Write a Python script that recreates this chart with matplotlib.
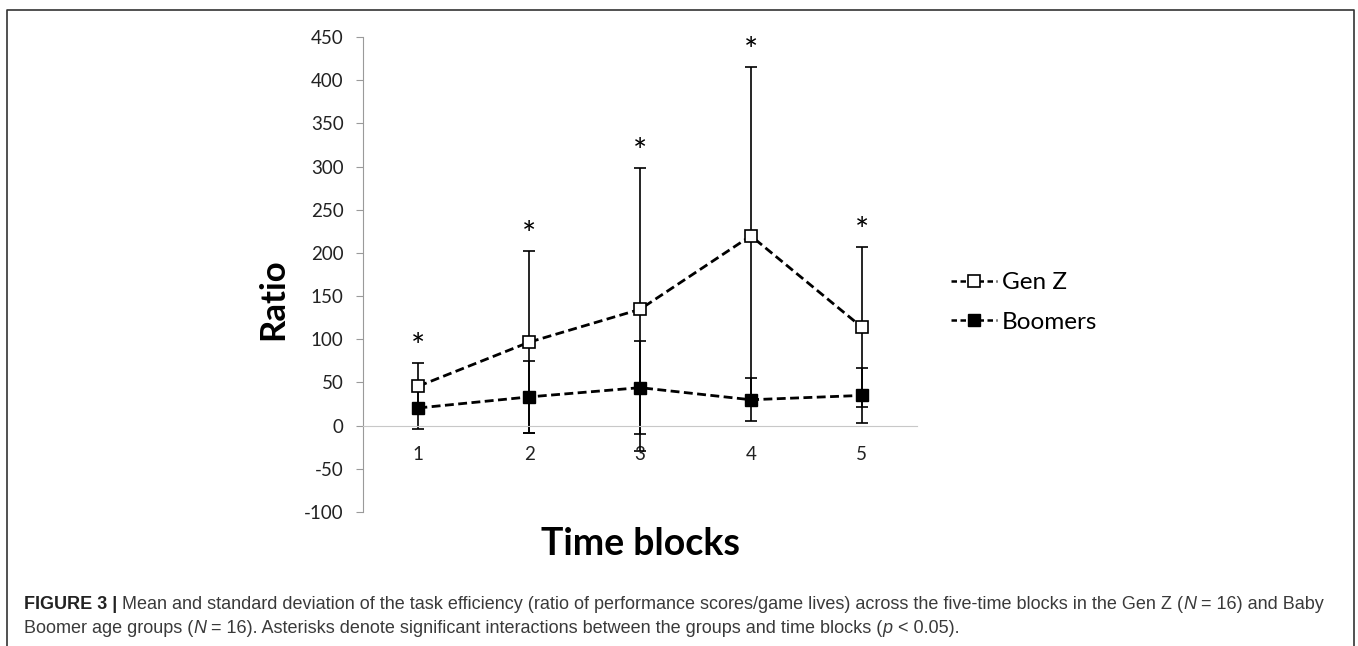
import matplotlib
matplotlib.use("Agg")
import matplotlib.pyplot as plt
from matplotlib.lines import Line2D

plt.rcParams["axes.unicode_minus"] = False

# =========================
# Data
# =========================
blocks = [1, 2, 3, 4, 5]
genz_mean = [45.7, 96.7, 134.7, 219.8, 114.2]
genz_sd = [26.3, 105.0, 164.0, 196.0, 93.0]
boomer_mean = [20.5, 33.3, 44.0, 30.0, 35.0]
boomer_sd = [24.0, 42.0, 54.0, 25.0, 32.0]
yticks = list(range(-100, 451, 50))

chart_font = ["Lato", "DejaVu Sans"]
caption_font = ["Liberation Sans", "DejaVu Sans"]

# =========================
# Figure and axes
# =========================
fig = plt.figure(figsize=(13.58, 6.46), dpi=100)
ax = fig.add_axes([0.2673, 0.2074, 0.408, 0.7353])

err_kw = dict(ecolor="black", elinewidth=1.2, capsize=4, capthick=1.2)
dash = (0, (3.2, 1.6))

ax.errorbar(blocks, boomer_mean, yerr=boomer_sd, fmt="none", **err_kw)
ax.errorbar(blocks, genz_mean, yerr=genz_sd, fmt="none", **err_kw)

ax.plot(blocks, boomer_mean, linestyle=dash, color="black", lw=2,
        marker="s", markersize=8.5, markerfacecolor="black",
        markeredgecolor="black", zorder=3)
ax.plot(blocks, genz_mean, linestyle=dash, color="black", lw=2,
        marker="s", markersize=8.5, markerfacecolor="white",
        markeredgecolor="black", markeredgewidth=1.2, zorder=3)

# asterisks above each Gen Z error bar
for x, m, s in zip(blocks, genz_mean, genz_sd):
    ax.annotate("*", (x, m + s), xytext=(0, 0), textcoords="offset points",
                ha="center", va="bottom", fontsize=24, family=chart_font)

ax.set_xlim(0.5, 5.5)
ax.set_ylim(-100, 450)
ax.set_yticks(yticks)
ax.set_xticks(blocks)

for side in ["top", "right"]:
    ax.spines[side].set_visible(False)
ax.spines["left"].set_color("#9a9a9a")
ax.spines["bottom"].set_position(("data", 0))
ax.spines["bottom"].set_color("#c8c8c8")
ax.tick_params(axis="y", direction="out", length=5, color="#9a9a9a",
               labelsize=13.5, pad=9)
ax.tick_params(axis="x", length=0, labelsize=13.5, pad=14.5)
for lab in ax.get_xticklabels() + ax.get_yticklabels():
    lab.set_family(chart_font)
    lab.set_color("#222222")

fig.text(0.201, 0.537, "Ratio", fontsize=25, fontweight="bold",
         family=chart_font, rotation=90, ha="center", va="center")
fig.text(0.4713, 0.1409, "Time blocks", fontsize=27, fontweight="bold",
         family=chart_font, ha="center", va="baseline")

# legend with the short Excel-style dashes
leg_dash = (0, (2.2, 1.4))
genz_handle = Line2D([], [], linestyle=leg_dash, color="black", lw=1.8,
                     marker="s", markersize=8, markerfacecolor="white",
                     markeredgecolor="black", markeredgewidth=1.2)
boomer_handle = Line2D([], [], linestyle=leg_dash, color="black", lw=1.8,
                       marker="s", markersize=8, markerfacecolor="black",
                       markeredgecolor="black")
fig.legend([genz_handle, boomer_handle], ["Gen Z", "Boomers"],
           loc="center left", bbox_to_anchor=(0.691, 0.5317), frameon=False,
           borderpad=0, handlelength=1.9, handletextpad=0.2,
           labelspacing=0.75, prop={"family": chart_font, "size": 17.5})

# =========================
# Frame and caption
# =========================
fig.add_artist(Line2D([7, 7, 1354, 1354], [-5, 636, 636, -5],
                      transform=None, color="#333333", lw=1.2))

renderer = fig.canvas.get_renderer()
cap_color = "#3a3a3a"


def draw_line(parts, x0, y0):
    x = x0
    for txt, style in parts:
        kw = dict(fontsize=13, family=caption_font, color=cap_color,
                  va="baseline", transform=None)
        if style == "b":
            kw["fontweight"] = "bold"
            kw["color"] = "#222222"
        if style == "i":
            kw["fontstyle"] = "italic"
        t = fig.text(x, y0, txt, **kw)
        x += t.get_window_extent(renderer).width


line1 = [
    ("FIGURE 3 | ", "b"),
    ("Mean and standard deviation of the task efficiency (ratio of performance "
     "scores/game lives) across the five-time blocks in the Gen Z (", "n"),
    ("N", "i"),
    (" = 16) and Baby", "n"),
]
line2 = [
    ("Boomer age groups (", "n"),
    ("N", "i"),
    (" = 16). Asterisks denote significant interactions between the groups "
     "and time blocks (", "n"),
    ("p", "i"),
    (" < 0.05).", "n"),
]
draw_line(line1, 24, 646 - 609)
draw_line(line2, 24, 646 - 633)

fig.savefig("out.png", dpi=100)
